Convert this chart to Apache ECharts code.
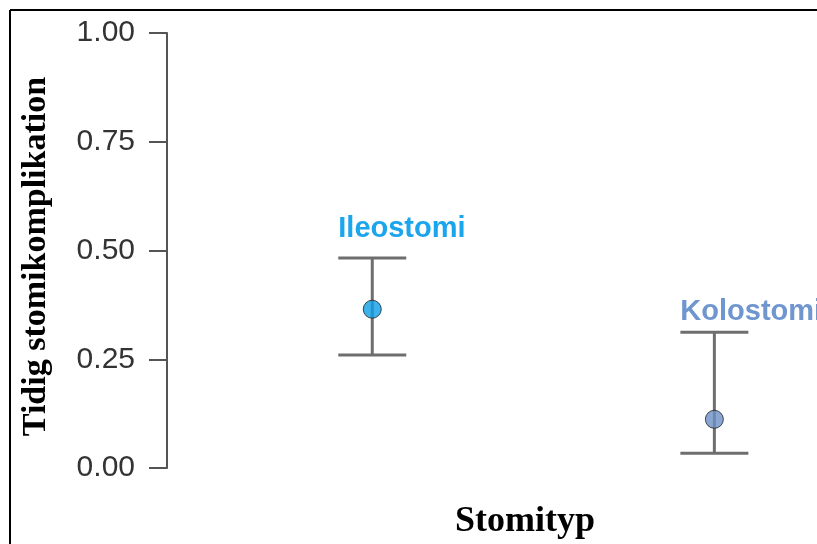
<!DOCTYPE html>
<html>
<head>
<meta charset="utf-8">
<script src="https://cdn.jsdelivr.net/npm/echarts@6/dist/echarts.min.js"></script>
<style>
  html, body { margin: 0; padding: 0; background: #fff; }
  #main { width: 817px; height: 544px; }
</style>
</head>
<body>
<div id="main"></div>
<script>
// stomityp och andel tidig komplikation (punkt + konfidensintervall)
const categories = ['Ileostomi', 'Kolostomi'];
const meanValues = [0.365, 0.112];
const lowerValues = [0.26, 0.034];
const upperValues = [0.483, 0.312];
const yTicks = [0, 0.25, 0.5, 0.75, 1];

const pointColors = ['#0d9de6', '#6b90c8'];
const labelColors = ['#1aa5ec', '#6f96ce'];
const labelLift = [14, 6];

const chart = echarts.init(document.getElementById('main'));

const barData = categories.map((c, i) => [i + 1, lowerValues[i], upperValues[i]]);
const pointData = categories.map((c, i) => ({
  value: [i + 1, meanValues[i]],
  itemStyle: { color: pointColors[i] }
}));

function renderBar(params, api) {
  const i = params.dataIndex;
  const x = api.value(0);
  const lo = api.coord([x, api.value(1)]);
  const hi = api.coord([x, api.value(2)]);
  const half = 34;
  const st = { stroke: '#6e6e6e', lineWidth: 3 };
  return {
    type: 'group',
    children: [
      { type: 'line', shape: { x1: lo[0], y1: lo[1], x2: hi[0], y2: hi[1] }, style: st },
      { type: 'line', shape: { x1: lo[0] - half, y1: lo[1], x2: lo[0] + half, y2: lo[1] }, style: st },
      { type: 'line', shape: { x1: hi[0] - half, y1: hi[1], x2: hi[0] + half, y2: hi[1] }, style: st },
      {
        type: 'text',
        style: {
          text: categories[i],
          x: hi[0] - half,
          y: hi[1] - labelLift[i],
          fill: labelColors[i],
          font: 'bold 29px "Liberation Sans", Arial, sans-serif',
          align: 'left',
          verticalAlign: 'bottom'
        }
      }
    ]
  };
}

const option = {
  animation: false,
  title: {
    text: 'Stomityp',
    left: 450,
    top: 499,
    textStyle: {
      fontFamily: '"Liberation Serif", "Times New Roman", serif',
      fontWeight: 'bold',
      fontSize: 36,
      color: '#000'
    }
  },
  graphic: [
    { type: 'line', shape: { x1: 10, y1: 10, x2: 817, y2: 10 }, style: { stroke: '#000', lineWidth: 2 } },
    { type: 'line', shape: { x1: 10, y1: 10, x2: 10, y2: 544 }, style: { stroke: '#000', lineWidth: 2 } }
  ],
  grid: { left: 167, right: 0, top: 33, bottom: 76, containLabel: false, outerBoundsMode: 'none' },
  xAxis: {
    type: 'value',
    min: 0.4,
    max: 2.3,
    axisLine: { show: false },
    axisTick: { show: false },
    axisLabel: { show: false },
    splitLine: { show: false }
  },
  yAxis: {
    type: 'value',
    min: 0,
    max: 1,
    interval: 0.25,
    name: 'Tidig stomikomplikation',
    nameLocation: 'middle',
    nameRotate: 90,
    nameGap: 114,
    nameTextStyle: {
      fontFamily: '"Liberation Serif", "Times New Roman", serif',
      fontWeight: 'bold',
      fontSize: 34,
      color: '#000',
      padding: [0, 12, 0, 0]
    },
    axisLine: { show: true, lineStyle: { color: '#555', width: 2 } },
    axisTick: { show: true, length: 18, lineStyle: { color: '#555', width: 2 } },
    axisLabel: {
      margin: 32,
      fontSize: 30,
      fontFamily: '"Liberation Sans", Arial, sans-serif',
      color: '#333',
      formatter: v => yTicks.indexOf(v) >= 0 ? v.toFixed(2) : ''
    },
    splitLine: { show: false }
  },
  series: [
    {
      type: 'custom',
      renderItem: renderBar,
      data: barData,
      encode: { x: 0, y: [1, 2] },
      z: 2
    },
    {
      type: 'scatter',
      data: pointData,
      symbol: 'circle',
      symbolSize: 18,
      itemStyle: { borderColor: '#222', borderWidth: 1 },
      z: 3
    }
  ]
};

chart.setOption(option);
window.onresize = chart.resize;
</script>
</body>
</html>
